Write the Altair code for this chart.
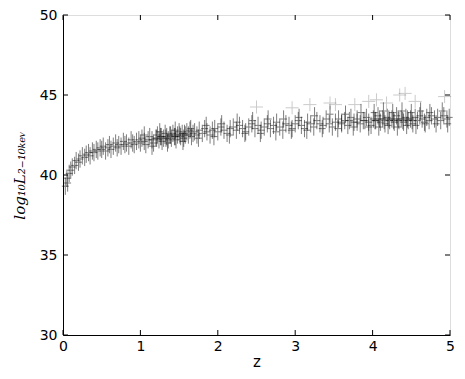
import altair as alt
import pandas as pd

# main band of sources: redshift z and log10 L(2-10 keV)
band_z = [0.03, 0.05, 0.06, 0.08, 0.10, 0.12, 0.15, 0.17, 0.20, 0.22, 0.25, 0.28, 0.30, 0.33, 0.35, 0.38, 0.40, 0.43, 0.45, 0.48, 0.50,
          0.52, 0.55, 0.58, 0.60, 0.62, 0.65, 0.68, 0.70, 0.72, 0.75, 0.78, 0.80, 0.82, 0.85, 0.88, 0.90, 0.92, 0.95, 0.98, 1.00,
          1.02, 1.05, 1.07, 1.10, 1.12, 1.15, 1.17, 1.20, 1.22, 1.24, 1.26, 1.28, 1.30, 1.32, 1.34, 1.36, 1.38, 1.40, 1.42, 1.44,
          1.46, 1.48, 1.50, 1.52, 1.54, 1.56, 1.58, 1.60, 1.62, 1.64, 1.66, 1.68, 1.70,
          1.73, 1.76, 1.80, 1.83, 1.86, 1.90, 1.93, 1.96, 2.00, 2.04, 2.08, 2.12, 2.16, 2.20, 2.24, 2.28, 2.32, 2.36, 2.40, 2.44, 2.48,
          2.52, 2.56, 2.60, 2.64, 2.68, 2.72, 2.76, 2.80, 2.84, 2.88, 2.92, 2.96, 3.00, 3.04, 3.08, 3.12, 3.16, 3.20, 3.24, 3.28,
          3.32, 3.36, 3.40, 3.44, 3.48,
          3.52, 3.56, 3.60, 3.64, 3.68, 3.72, 3.76, 3.80, 3.84, 3.88, 3.92, 3.95, 3.98, 4.01, 4.04, 4.07, 4.10, 4.13, 4.16, 4.19,
          4.22, 4.25, 4.28, 4.31, 4.34, 4.37, 4.40, 4.43, 4.46, 4.49, 4.52, 4.55, 4.58, 4.61, 4.64, 4.67, 4.70, 4.73, 4.76, 4.80,
          4.84, 4.88, 4.92, 4.96, 4.99]
band_L = [39.3, 39.8, 39.5, 40.1, 40.3, 40.5, 40.6, 40.9, 40.8, 41.0, 41.2, 41.1, 41.3, 41.4, 41.2, 41.5, 41.4, 41.6, 41.5, 41.7, 41.6,
          41.8, 41.5, 41.7, 41.9, 41.6, 41.8, 42.0, 41.7, 41.9, 41.8, 42.1, 41.9, 42.0, 41.8, 42.2, 42.0, 41.9, 42.1, 42.2, 42.0,
          42.3, 42.1, 41.9, 42.2, 42.4, 42.2, 42.0, 42.3, 42.5, 42.2, 42.4, 42.1, 42.3, 42.6, 42.4, 42.2, 42.5, 42.3, 42.6, 42.4,
          42.2, 42.5, 42.7, 42.4, 42.6, 42.3, 42.5, 42.7, 42.5, 42.8, 42.4, 42.6, 42.7,
          42.5, 42.8, 42.6, 42.9, 42.7, 42.5, 42.8, 42.9, 42.7, 43.0, 42.8, 42.6, 42.9, 43.0, 42.8, 43.1, 42.9, 42.7, 43.0, 43.2, 42.9,
          43.1, 42.8, 43.0, 43.2, 42.9, 43.1, 43.3, 43.0, 42.8, 43.2, 43.1, 42.9, 43.2, 43.4, 43.1, 42.9, 43.3, 43.2, 43.0, 43.4,
          43.2, 43.1, 43.5, 43.2, 43.0,
          43.3, 43.5, 43.2, 43.4, 43.1, 43.6, 43.3, 43.5, 43.2, 43.4, 43.6, 43.3, 43.1, 43.5, 43.4, 43.7, 43.3, 43.5, 43.2, 43.6,
          43.4, 43.5, 43.3, 43.7, 43.4, 43.5, 43.3, 43.6, 43.4, 43.5, 43.2, 43.6, 43.4, 43.7, 43.5, 43.3, 43.6, 43.4, 43.7, 43.5,
          43.6, 43.4, 43.7, 43.5, 43.6]

# sources at the upper and lower edges of the band
edge_z = [1.05, 1.15, 1.25, 1.35, 1.45, 1.55, 1.65, 1.75, 1.85, 1.95, 2.05, 2.15, 2.25, 2.35, 2.45, 2.55, 2.65, 2.75, 2.85, 2.95,
          3.05, 3.15, 3.25, 3.35, 3.45, 3.55, 3.65, 3.75, 3.85, 3.95, 4.02, 4.08, 4.14, 4.20, 4.26, 4.32, 4.38, 4.44, 4.50, 4.56,
          4.62, 4.68, 4.74, 4.82, 4.90, 4.97]
edge_L = [42.5, 41.8, 42.7, 42.0, 42.8, 42.1, 42.9, 42.3, 43.1, 42.4, 43.2, 42.5, 43.3, 42.6, 43.4, 42.6, 43.5, 42.7, 43.5, 42.8,
          43.6, 42.8, 43.7, 42.9, 43.8, 42.9, 43.8, 43.0, 43.9, 43.0, 43.9, 43.0, 44.0, 43.1, 43.9, 43.0, 44.0, 43.1, 43.9, 43.1,
          44.0, 43.2, 43.9, 43.2, 44.0, 43.2]

# densest parts of the band
core_z = [1.21, 1.27, 1.33, 1.39, 1.45, 1.51, 1.57, 3.60, 3.70, 3.80, 3.90, 4.03, 4.09, 4.15, 4.21, 4.27, 4.33, 4.39, 4.45, 4.51]
core_L = [42.3, 42.4, 42.3, 42.5, 42.4, 42.5, 42.6, 43.3, 43.4, 43.3, 43.4, 43.4, 43.5, 43.4, 43.5, 43.4, 43.5, 43.4, 43.5, 43.4]

# bright outliers drawn with larger crosses
out_z = [2.50, 2.96, 3.19, 3.45, 3.52, 3.77, 3.95, 4.05, 4.18, 4.35, 4.42, 4.55, 4.93]
out_L = [44.25, 44.2, 44.4, 44.5, 44.4, 44.4, 44.6, 44.7, 44.5, 45.0, 45.1, 44.6, 44.9]

x_ticks = [0, 1, 2, 3, 4, 5]
y_ticks = [30, 35, 40, 45, 50]

W, H = 387, 320
FONT = "DejaVu Sans"

band = pd.DataFrame({"z": band_z + edge_z + core_z, "L": band_L + edge_L + core_L})
outl = pd.DataFrame({"z": out_z, "L": out_L})
xt = pd.DataFrame({"v": x_ticks})
yt = pd.DataFrame({"v": y_ticks})

xs = alt.Scale(domain=[0, 5], nice=False, zero=False)
ys = alt.Scale(domain=[30, 50], nice=False, zero=False)

xaxis = alt.Axis(values=x_ticks, format="d", ticks=False, grid=False, labelPadding=4, labelFontSize=14,
                 labelFont=FONT, labelColor="black", title="z", titleFont=FONT, titleFontSize=15,
                 titleFontWeight="normal", titleColor="black", titlePadding=1, domainColor="black",
                 labelFlush=False)
yaxis = alt.Axis(values=y_ticks, format="d", ticks=False, grid=False, labelPadding=6, labelFontSize=14,
                 labelFont=FONT, labelColor="black",
                 title="log₁₀L₂₋₁₀ₖₑᵥ", titleFont="DejaVu Serif", titleFontStyle="italic",
                 titleFontSize=15, titleFontWeight="normal", titleColor="black", titlePadding=12,
                 domainColor="black", labelFlush=False)

small_cross = "M-0.4,0H0.4M0,-1V1"
big_cross = "M-1,0H1M0,-1V1"

pts = alt.Chart(band).mark_point(shape=small_cross, filled=False, color="black",
                                 strokeWidth=1, opacity=0.5, size=300).encode(
    x=alt.X("z:Q", scale=xs, axis=xaxis),
    y=alt.Y("L:Q", scale=ys, axis=yaxis),
)
big = alt.Chart(outl).mark_point(shape=big_cross, filled=False, color="black",
                                 strokeWidth=1, opacity=0.2, size=170).encode(
    x=alt.X("z:Q", scale=xs), y=alt.Y("L:Q", scale=ys))

TL = 5
ty_left = alt.Chart(yt).mark_rule(color="black").encode(
    y=alt.Y("v:Q", scale=ys), x=alt.value(0), x2=alt.value(TL))
ty_right = alt.Chart(yt).mark_rule(color="black").encode(
    y=alt.Y("v:Q", scale=ys), x=alt.value(W - TL), x2=alt.value(W))
tx_bot = alt.Chart(xt).mark_rule(color="black").encode(
    x=alt.X("v:Q", scale=xs), y=alt.value(H - TL), y2=alt.value(H))
tx_top = alt.Chart(xt).mark_rule(color="black").encode(
    x=alt.X("v:Q", scale=xs), y=alt.value(0), y2=alt.value(TL))

chart = alt.layer(pts, big, ty_left, ty_right, tx_bot, tx_top).properties(
    width=W, height=H,
    autosize=alt.AutoSizeParams(type="none"),
    padding={"left": 55, "top": 7, "right": 6, "bottom": 36},
).configure_view(stroke="black", strokeWidth=1).configure(background="white")

chart.save("out.html", embed_options={"renderer": "svg", "actions": False})
